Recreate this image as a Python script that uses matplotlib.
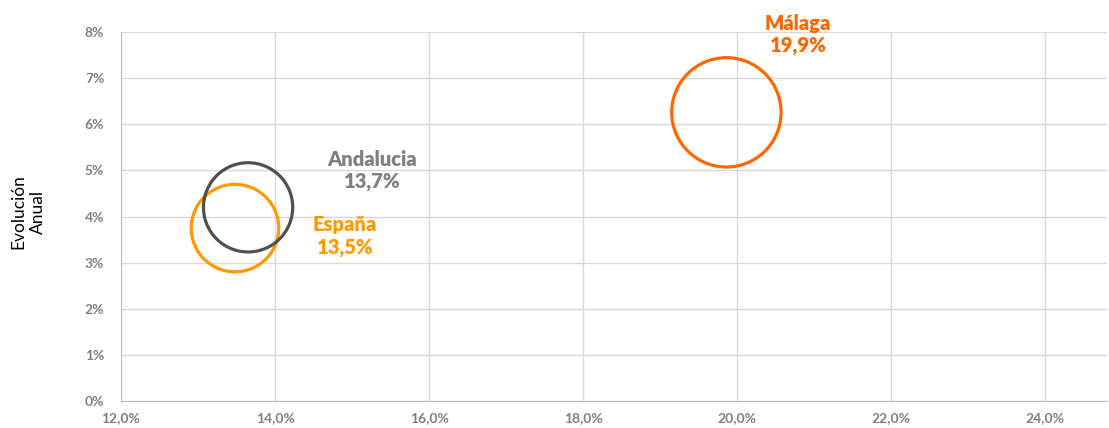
import matplotlib
matplotlib.use("Agg")
from matplotlib import pyplot as plt
from matplotlib.ticker import FuncFormatter

# datos del gráfico
regiones = ["España", "Andalucia", "Málaga"]
cuota = [13.48, 13.65, 19.86]        # eje x (%)
evolucion = [3.75, 4.2, 6.26]        # eje y (%)
tamano = [1.0, 1.02, 1.25]           # tamaño relativo de burbuja
etiquetas = ["13,5%", "13,7%", "19,9%"]

colores = ["#FF9900", "#505050", "#FF6600"]
colores_txt = ["#FF9900", "#808080", "#FF6600"]

plt.rcParams["font.family"] = ["Lato", "DejaVu Sans"]

fig = plt.figure(figsize=(11.09, 4.28), dpi=100)
ax = fig.add_axes([0.1091, 0.063, 0.889, 0.862])

# burbujas sin relleno
radio_base = 31.5  # puntos
for x, y, t, c in zip(cuota, evolucion, tamano, colores):
    ax.scatter(x, y, s=(2 * radio_base * t) ** 2, facecolors="none",
               edgecolors=c, linewidths=2.3, zorder=3)

# etiquetas de cada burbuja
pos_txt = [(14.91, 3.58), (15.26, 5.0), (20.79, 7.95)]
for (tx, ty), nombre, et, c in zip(pos_txt, regiones, etiquetas, colores_txt):
    ax.text(tx, ty, nombre + "\n" + et, color=c, fontsize=14.5,
            fontweight="heavy", ha="center", va="center",
            linespacing=1.2, clip_on=False, zorder=4)

ax.set_xlim(12, 24.8)
ax.set_ylim(0, 8)
ax.set_xticks([12, 14, 16, 18, 20, 22, 24])
ax.set_yticks(range(0, 9))
ax.xaxis.set_major_formatter(FuncFormatter(lambda v, p: f"{v:.1f}%".replace(".", ",")))
ax.yaxis.set_major_formatter(FuncFormatter(lambda v, p: f"{v:.0f}%"))

ax.grid(True, color="#D9D9D9", linewidth=1.0, zorder=0)
ax.set_axisbelow(True)
ax.tick_params(length=0, labelsize=10, labelcolor="#808080", pad=8)
ax.tick_params(axis="y", pad=12)
for lab in ax.get_xticklabels() + ax.get_yticklabels():
    lab.set_fontweight("bold")

ax.spines["right"].set_color("none")
ax.spines["top"].set_color("none")
ax.spines["left"].set_color("#BFBFBF")
ax.spines["bottom"].set_color("#BFBFBF")

# título del eje y en dos líneas centradas
fig.text(0.0165, 0.505, "Evolución", rotation=90, ha="center",
         va="center", fontsize=12.5, color="black")
fig.text(0.0345, 0.505, "Anual", rotation=90, ha="center",
         va="center", fontsize=12.5, color="black")

fig.savefig("out.png", dpi=100)
